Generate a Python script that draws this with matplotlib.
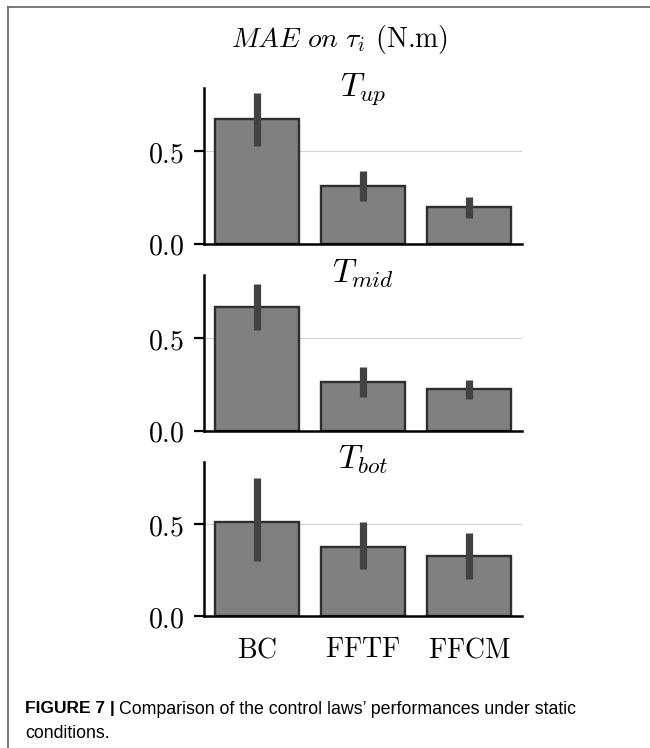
import matplotlib
matplotlib.use("Agg")
import matplotlib.pyplot as plt
from matplotlib.lines import Line2D
from matplotlib.ticker import FuncFormatter

plt.rcParams['mathtext.fontset'] = 'cm'

categories = ['BC', 'FFTF', 'FFCM']
titles = [r'$T_{up}$', r'$T_{mid}$', r'$T_{bot}$']

means_up = [0.673, 0.311, 0.196]
lo_up = [0.529, 0.232, 0.137]
hi_up = [0.812, 0.392, 0.250]

means_mid = [0.670, 0.265, 0.227]
lo_mid = [0.545, 0.182, 0.173]
hi_mid = [0.790, 0.345, 0.275]

means_bot = [0.511, 0.374, 0.324]
lo_bot = [0.298, 0.257, 0.200]
hi_bot = [0.752, 0.511, 0.450]

yticks = [0.0, 0.5]

panels = [(means_up, lo_up, hi_up), (means_mid, lo_mid, hi_mid), (means_bot, lo_bot, hi_bot)]

W, H = 650, 748
fig = plt.figure(figsize=(W / 100, H / 100), dpi=100)

# axes boxes in pixels (left, top, right, bottom)
boxes = [(204, 88.3, 522, 243.7), (204, 275.0, 522, 430.7), (204, 461.7, 522, 616.0)]

for i, ((m, lo, hi), box) in enumerate(zip(panels, boxes)):
    l, t, r, b = box
    ax = fig.add_axes([l / W, 1 - b / H, (r - l) / W, (b - t) / H])
    x = list(range(len(categories)))
    ax.bar(x, m, width=0.8, color='#808080', edgecolor='#2e2e2e', linewidth=1.7, zorder=2)
    ax.vlines(x, lo, hi, color='#424242', linewidth=5.2, zorder=3)
    ax.set_xlim(-0.5, 2.5)
    ax.set_ylim(0, 0.84)
    ax.set_yticks(yticks)
    ax.yaxis.set_major_formatter(FuncFormatter(lambda v, p: f'${v:.1f}$'))
    ax.set_xticks(x)
    if i == 2:
        ax.set_xticklabels([r'$\mathrm{%s}$' % c for c in categories])
    else:
        ax.set_xticklabels([])
    ax.tick_params(axis='x', length=0, pad=14, labelsize=20)
    ax.tick_params(axis='y', length=7, width=1.6, pad=7, labelsize=20, color='black')
    ax.grid(axis='y', color='#d4d4d4', linewidth=0.8)
    ax.set_axisbelow(True)
    for s in ['top', 'right']:
        ax.spines[s].set_visible(False)
    for s in ['left', 'bottom']:
        ax.spines[s].set_linewidth(1.8)
        ax.spines[s].set_color('black')
    ax.set_title(titles[i], fontsize=24, y=0.955, pad=0)

fig.text(340 / W, 1 - 39 / H, r'$MAE\ on\ \tau_i$ (N.m)', fontsize=20,
         family=['cmr10', 'DejaVu Serif'], ha='center', va='center')

# border lines
fig.add_artist(Line2D([8 / W, 1.0], [1 - 6.5 / H, 1 - 6.5 / H], transform=fig.transFigure,
                      color='#6e6e6e', linewidth=1.3))
fig.add_artist(Line2D([8 / W, 8 / W], [0.0, 1 - 6.5 / H], transform=fig.transFigure,
                      color='#6e6e6e', linewidth=1.3))

# caption
cap_font = ['Liberation Sans', 'DejaVu Sans']
t1 = fig.text(25 / W, 1 - 709 / H, 'FIGURE 7 |', fontsize=12.5, fontweight='bold',
              family=cap_font, ha='left', va='center')
fig.canvas.draw()
bb = t1.get_window_extent()
fig.text((bb.x1 + 4) / W, 1 - 709 / H,
         'Comparison of the control laws\u2019 performances under static',
         fontsize=12.8, family=cap_font, ha='left', va='center')
fig.text(25 / W, 1 - 733 / H, 'conditions.', fontsize=12.8, family=cap_font,
         ha='left', va='center')

fig.savefig('out.png', dpi=100)
